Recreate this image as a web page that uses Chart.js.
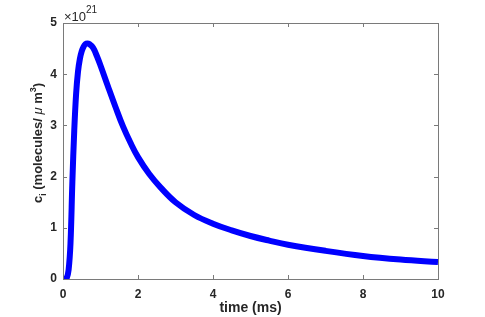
<!DOCTYPE html>
<html>
<head>
<meta charset="utf-8">
<script src="https://cdn.jsdelivr.net/npm/chart.js@4"></script>
<style>
  html, body { margin: 0; padding: 0; background: #fff; }
  #wrap { width: 485px; height: 317px; }
</style>
</head>
<body>
<div id="wrap"><canvas id="ciChart"></canvas></div>
<script>
// time (ms) and c_i (x 10^21 molecules / um^3)
const timeMs = [0, 0.05, 0.1, 0.15, 0.2, 0.25, 0.3, 0.35, 0.4, 0.45, 0.5, 0.55, 0.6, 0.65, 0.7, 0.8, 0.9, 1.0,
                1.2, 1.4, 1.6, 1.8, 2.0, 2.3, 2.6, 3.0, 3.5, 4.0, 4.5, 5.0, 5.5, 6.0, 7.0, 8.0, 9.0, 10.0];
const ciValues = [0, 0, 0.02, 0.18, 0.7, 1.9, 2.9, 3.62, 4.05, 4.3, 4.45, 4.54, 4.59, 4.6, 4.59, 4.52, 4.36, 4.17,
                  3.76, 3.36, 2.98, 2.66, 2.38, 2.05, 1.79, 1.5, 1.25, 1.08, 0.95, 0.84, 0.75, 0.67, 0.55, 0.45, 0.38, 0.33];
const xTicks = [0, 2, 4, 6, 8, 10];
const yTicks = [0, 1, 2, 3, 4, 5];

const axisColor = '#7a7a7a';
const textColor = '#262626';
const fontFam = '"Liberation Sans", Arial, Helvetica, sans-serif';

// box, inward ticks, exponent label and y title (MATLAB style)
const matlabAxes = {
    id: 'matlabAxes',
    afterDraw(chart) {
        const ctx = chart.ctx;
        const a = chart.chartArea;
        const xs = chart.scales.x, ys = chart.scales.y;
        ctx.save();
        ctx.strokeStyle = axisColor;
        ctx.lineWidth = 1;
        ctx.strokeRect(Math.round(a.left) + 0.5, Math.round(a.top) + 0.5,
                       Math.round(a.right - a.left), Math.round(a.bottom - a.top));
        ctx.beginPath();
        xTicks.forEach(v => {
            const px = Math.round(xs.getPixelForValue(v)) + 0.5;
            ctx.moveTo(px, a.bottom); ctx.lineTo(px, a.bottom - 4);
            ctx.moveTo(px, a.top); ctx.lineTo(px, a.top + 4);
        });
        yTicks.forEach(v => {
            const py = Math.round(ys.getPixelForValue(v)) + 0.5;
            ctx.moveTo(a.left, py); ctx.lineTo(a.left + 4, py);
            ctx.moveTo(a.right, py); ctx.lineTo(a.right - 4, py);
        });
        ctx.stroke();

        // x10^21
        ctx.fillStyle = textColor;
        ctx.textBaseline = 'alphabetic';
        ctx.textAlign = 'left';
        ctx.font = '13px ' + fontFam;
        ctx.fillText('\u00d710', a.left + 1, a.top - 2);
        const w = ctx.measureText('\u00d710').width;
        ctx.font = '10px ' + fontFam;
        ctx.fillText('21', a.left + 1 + w, a.top - 10);

        // y title: c_i (molecules/ mu m^3)
        const parts = [
            { t: 'c', f: 'bold 13px ', dy: 0 },
            { t: 'i', f: 'bold 9px ', dy: 4 },
            { t: ' (molecules/ ', f: 'bold 13px ', dy: 0 },
            { t: '\u03bc', f: 'italic 13px ', dy: 0 },
            { t: ' m', f: 'bold 13px ', dy: 0 },
            { t: '3', f: 'bold 9px ', dy: -6 },
            { t: ')', f: 'bold 13px ', dy: 0 }
        ];
        let total = 0;
        parts.forEach(p => { ctx.font = p.f + fontFam; p.w = ctx.measureText(p.t).width; total += p.w; });
        ctx.translate(a.left - 21, 143);
        ctx.rotate(-Math.PI / 2);
        let cx = -total / 2;
        parts.forEach(p => {
            ctx.font = p.f + fontFam;
            ctx.fillText(p.t, cx, p.dy);
            cx += p.w;
        });
        ctx.restore();
    }
};

new Chart(document.getElementById('ciChart'), {
    type: 'line',
    data: {
        datasets: [{
            data: timeMs.map((t, i) => ({ x: t, y: ciValues[i] })),
            borderColor: '#0000ff',
            borderWidth: 6,
            pointRadius: 0,
            tension: 0.4,
            fill: false
        }]
    },
    options: {
        responsive: true,
        maintainAspectRatio: false,
        animation: false,
        layout: { padding: { left: 0, right: 47, top: 23, bottom: 0 } },
        plugins: { legend: { display: false }, tooltip: { enabled: false } },
        scales: {
            x: {
                type: 'linear', min: 0, max: 10,
                afterFit(s) { s.height = 38; },
                afterBuildTicks(s) { s.ticks = xTicks.map(v => ({ value: v })); },
                grid: { display: false, drawTicks: false },
                border: { display: false },
                ticks: { color: textColor, padding: 8, maxRotation: 0,
                         font: { family: fontFam, size: 12, weight: 'bold' } },
                title: { display: true, text: 'time (ms)', color: textColor, padding: { top: 2, bottom: 0 },
                         font: { family: fontFam, size: 14, weight: 'bold' } }
            },
            y: {
                min: 0, max: 5,
                afterFit(s) { s.width = 63; },
                afterBuildTicks(s) { s.ticks = yTicks.map(v => ({ value: v })); },
                grid: { display: false, drawTicks: false },
                border: { display: false },
                ticks: { color: textColor, padding: 6,
                         font: { family: fontFam, size: 12, weight: 'bold' } }
            }
        }
    },
    plugins: [matlabAxes]
});
</script>
</body>
</html>
